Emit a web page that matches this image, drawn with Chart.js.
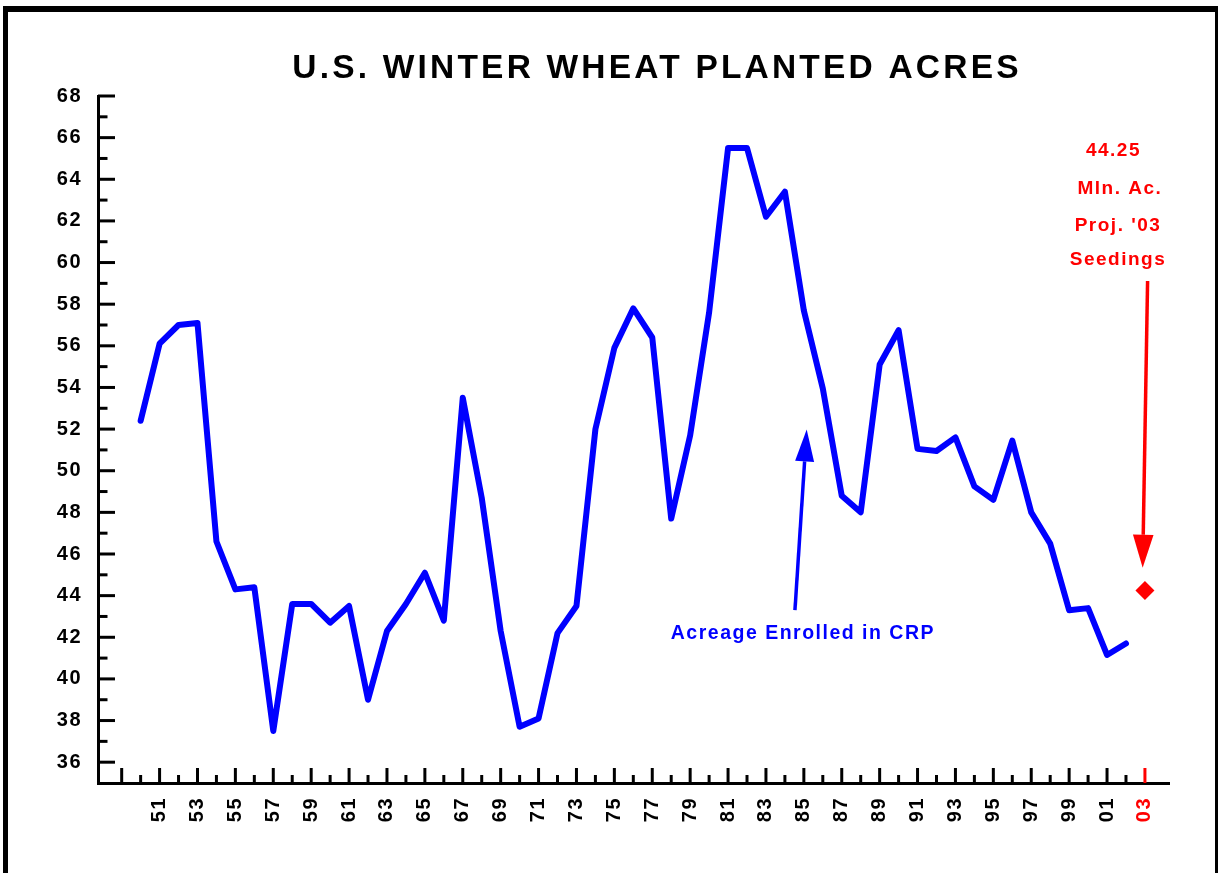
<!DOCTYPE html>
<html>
<head>
<meta charset="utf-8">
<script src="https://cdn.jsdelivr.net/npm/chart.js@4/dist/chart.umd.min.js"></script>
<style>
html,body{margin:0;padding:0;background:#fff;}
#wrap{width:1218px;height:873px;position:relative;}
</style>
</head>
<body>
<div id="wrap"><canvas id="c" width="1218" height="873"></canvas></div>
<script>
// ---- data ----
const years = [1950,1951,1952,1953,1954,1955,1956,1957,1958,1959,1960,1961,1962,1963,1964,1965,1966,1967,1968,1969,1970,1971,1972,1973,1974,1975,1976,1977,1978,1979,1980,1981,1982,1983,1984,1985,1986,1987,1988,1989,1990,1991,1992,1993,1994,1995,1996,1997,1998,1999,2000,2001,2002];
const acres = [52.4,56.1,57.0,57.1,46.6,44.3,44.4,37.5,43.6,43.6,42.7,43.5,39.0,42.3,43.6,45.1,42.8,53.5,48.7,42.3,37.7,38.1,42.2,43.5,52.0,55.9,57.8,56.4,47.7,51.7,57.6,65.5,65.5,62.2,63.4,57.7,53.95,48.8,48.0,55.1,56.75,51.05,50.95,51.6,49.25,48.6,51.45,48.0,46.5,43.3,43.4,41.15,41.7];
const projYear = [2003];
const projValue = [44.25];
const yTickValues = [36,38,40,42,44,46,48,50,52,54,56,58,60,62,64,66,68];
const xTickYears = [1949,1950,1951,1952,1953,1954,1955,1956,1957,1958,1959,1960,1961,1962,1963,1964,1965,1966,1967,1968,1969,1970,1971,1972,1973,1974,1975,1976,1977,1978,1979,1980,1981,1982,1983,1984,1985,1986,1987,1988,1989,1990,1991,1992,1993,1994,1995,1996,1997,1998,1999,2000,2001,2002,2003];
const titleText = "U.S. WINTER WHEAT PLANTED ACRES";
const noteLines = ["44.25", "Mln. Ac.", "Proj. '03", "Seedings"];
const noteX = [2001.34, 2001.68, 2001.58, 2001.58];
const noteY = [65.1, 63.28, 61.51, 59.87];
const crpLabel = "Acreage Enrolled in CRP";
const crpLabelPos = [1984.95, 41.91];
const blueArrow = {tail:[1984.53, 43.3], tip:[1985.15, 51.98]};
const redArrow = {tail:[2003.14, 59.11], tip:[2002.88, 45.34]};

const FONT = '"Liberation Sans", Arial, sans-serif';

function drawArrow(ctx, x0, y0, x1, y1, color, lw, headLen, halfW) {
  const dx = x1 - x0, dy = y1 - y0;
  const len = Math.hypot(dx, dy);
  const ux = dx / len, uy = dy / len;
  const bx = x1 - ux * headLen, by = y1 - uy * headLen;
  ctx.save();
  ctx.strokeStyle = color; ctx.fillStyle = color; ctx.lineWidth = lw;
  ctx.beginPath(); ctx.moveTo(x0, y0); ctx.lineTo(bx, by); ctx.stroke();
  ctx.beginPath();
  ctx.moveTo(x1, y1);
  ctx.lineTo(bx - uy * halfW, by + ux * halfW);
  ctx.lineTo(bx + uy * halfW, by - ux * halfW);
  ctx.closePath(); ctx.fill();
  ctx.restore();
}

const decor = {
  id: 'decor',
  beforeDraw(chart) {
    const ctx = chart.ctx;
    ctx.save();
    ctx.fillStyle = '#fff';
    ctx.fillRect(0, 0, chart.width, chart.height);
    ctx.fillStyle = '#000';
    ctx.fillRect(3, 6, 5, chart.height - 6);
    ctx.fillRect(3, 6, 1215, 6);
    ctx.fillRect(1215, 6, 5, chart.height - 6);
    // title
    ctx.font = 'bold 33.5px ' + FONT;
    ctx.letterSpacing = '3.2px';
    ctx.textAlign = 'center';
    ctx.textBaseline = 'alphabetic';
    ctx.fillText(titleText, 657, 78);
    ctx.restore();
    ctx.letterSpacing = '1.5px';
  },
  afterDraw(chart) {
    const ctx = chart.ctx;
    const xs = chart.scales.x, ys = chart.scales.y;
    const bottom = chart.chartArea.bottom, left = chart.chartArea.left;
    ctx.save();
    ctx.lineWidth = 3;
    ctx.lineCap = 'butt';
    for (let v = 36; v <= 68; v++) {
      const py = ys.getPixelForValue(v);
      const L = (v % 2 === 0) ? 17 : 9.5;
      ctx.strokeStyle = '#000';
      ctx.beginPath(); ctx.moveTo(left, py); ctx.lineTo(left + L, py); ctx.stroke();
    }
    xTickYears.forEach(yr => {
      const px = xs.getPixelForValue(yr);
      const L = (yr % 2 === 1) ? 15 : 8;
      ctx.strokeStyle = yr === 2003 ? '#ff0000' : '#000';
      ctx.beginPath(); ctx.moveTo(px, bottom); ctx.lineTo(px, bottom - L); ctx.stroke();
    });
    drawArrow(ctx, xs.getPixelForValue(blueArrow.tail[0]), ys.getPixelForValue(blueArrow.tail[1]),
      xs.getPixelForValue(blueArrow.tip[0]), ys.getPixelForValue(blueArrow.tip[1]), '#0000ff', 3.5, 32, 9.5);
    drawArrow(ctx, xs.getPixelForValue(redArrow.tail[0]), ys.getPixelForValue(redArrow.tail[1]),
      xs.getPixelForValue(redArrow.tip[0]), ys.getPixelForValue(redArrow.tip[1]), '#ff0000', 3.5, 33, 10.3);
    ctx.textAlign = 'center';
    ctx.textBaseline = 'alphabetic';
    ctx.letterSpacing = '1.5px';
    ctx.font = 'bold 19.5px ' + FONT;
    ctx.fillStyle = '#0000ff';
    ctx.fillText(crpLabel, xs.getPixelForValue(crpLabelPos[0]), ys.getPixelForValue(crpLabelPos[1]));
    ctx.font = 'bold 19px ' + FONT;
    ctx.fillStyle = '#ff0000';
    noteLines.forEach((t, i) => {
      ctx.fillText(t, xs.getPixelForValue(noteX[i]), ys.getPixelForValue(noteY[i]));
    });
    ctx.restore();
  }
};

new Chart(document.getElementById('c'), {
  type: 'line',
  data: {
    datasets: [
      {
        label: 'Winter wheat planted acres',
        data: years.map((y, i) => ({x: y, y: acres[i]})),
        borderColor: '#0000ff',
        borderWidth: 6,
        borderCapStyle: 'round',
        borderJoinStyle: 'round',
        pointRadius: 0,
        tension: 0,
        fill: false
      },
      {
        label: 'Projected 2003 seedings',
        data: projYear.map((y, i) => ({x: y, y: projValue[i]})),
        showLine: false,
        pointStyle: 'rectRot',
        pointRadius: 9.5,
        pointBackgroundColor: '#ff0000',
        pointBorderWidth: 0,
        pointBorderColor: '#ff0000'
      }
    ]
  },
  options: {
    responsive: false,
    animation: false,
    devicePixelRatio: 1,
    layout: {padding: {top: 96, right: 49, left: 0, bottom: 0}},
    plugins: {legend: {display: false}, tooltip: {enabled: false}, title: {display: false}},
    scales: {
      x: {
        type: 'linear',
        min: 1947.75,
        max: 2004.27,
        afterBuildTicks: s => { s.ticks = xTickYears.map(v => ({value: v})); },
        afterFit: s => { s.height = 90; },
        grid: {display: false, drawTicks: false},
        border: {display: true, color: '#000', width: 3},
        ticks: {
          autoSkip: false,
          minRotation: 90,
          maxRotation: 90,
          padding: 14,
          font: {family: FONT, size: 20, weight: 'bold'},
          color: ctx => (ctx.tick && ctx.tick.value === 2003) ? '#ff0000' : '#000',
          callback: v => (v % 2 === 1 && v >= 1951) ? String(v % 100).padStart(2, '0') : ''
        }
      },
      y: {
        type: 'linear',
        min: 35,
        max: 68,
        afterBuildTicks: s => { s.ticks = yTickValues.map(v => ({value: v})); },
        afterFit: s => { s.width = 98; },
        grid: {display: false, drawTicks: false},
        border: {display: true, color: '#000', width: 3},
        ticks: {
          padding: 16,
          font: {family: FONT, size: 20, weight: 'bold'},
          color: '#000',
          callback: v => String(v)
        }
      }
    }
  },
  plugins: [decor]
});
</script>
</body>
</html>
